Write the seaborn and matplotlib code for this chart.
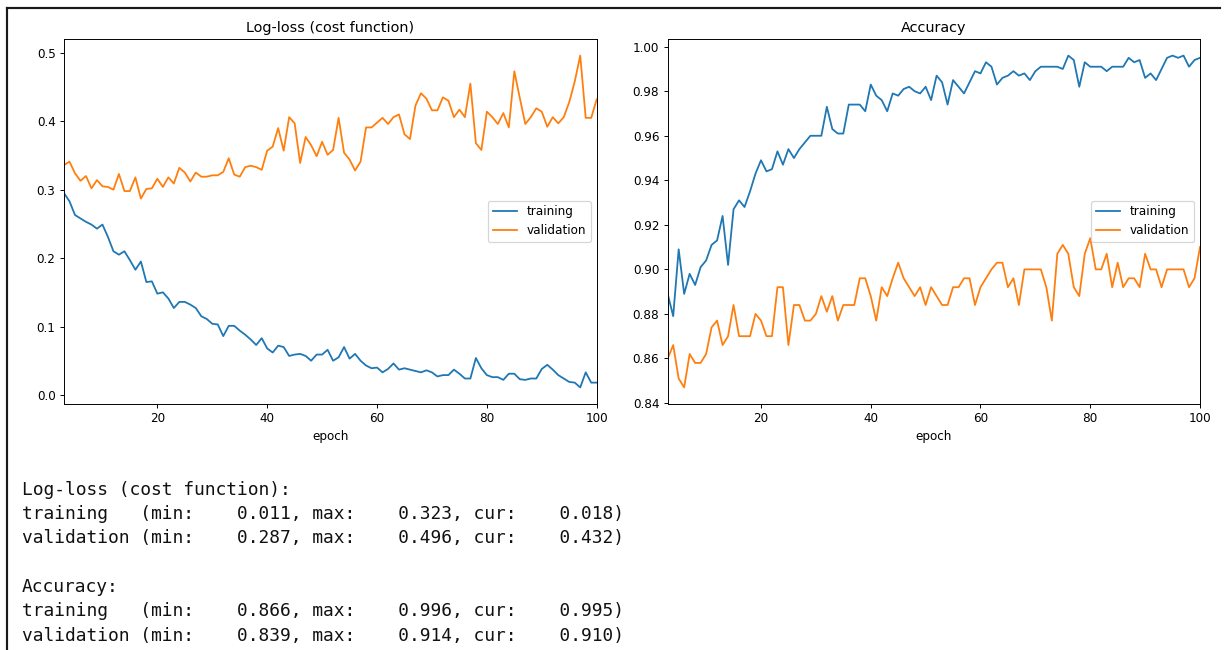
import matplotlib
matplotlib.use("Agg")
import matplotlib.pyplot as plt
from matplotlib.lines import Line2D
import seaborn as sns

# values per epoch 1..100 (first two epochs are not drawn, like livelossplot skip_first=2)
epochs = list(range(1, 101))
skip_first = 2

train_loss = [
    0.323, 0.306,
    0.295, 0.283, 0.263, 0.258, 0.253, 0.249, 0.243, 0.249, 0.231, 0.210,
    0.205, 0.210, 0.197, 0.183, 0.195, 0.165, 0.166, 0.148, 0.150, 0.141,
    0.127, 0.136, 0.136, 0.132, 0.127, 0.115, 0.111, 0.104, 0.103, 0.086,
    0.101, 0.101, 0.094, 0.088, 0.081, 0.073, 0.083, 0.068, 0.062, 0.072,
    0.070, 0.057, 0.059, 0.060, 0.057, 0.050, 0.059, 0.059, 0.066, 0.050,
    0.055,
    0.070, 0.053, 0.060, 0.050, 0.043, 0.039, 0.040, 0.033, 0.038, 0.046,
    0.037, 0.039, 0.037, 0.035, 0.033, 0.036, 0.033, 0.027, 0.029, 0.029,
    0.037, 0.031, 0.024, 0.024, 0.054, 0.039, 0.029, 0.026, 0.026, 0.022,
    0.031, 0.031, 0.023, 0.022, 0.024, 0.024, 0.038, 0.044, 0.037, 0.029,
    0.024, 0.019, 0.018, 0.011, 0.033, 0.018, 0.018,
]
val_loss = [
    0.335, 0.330,
    0.336, 0.341, 0.324, 0.313, 0.320, 0.302, 0.314, 0.305, 0.304, 0.300,
    0.323, 0.298, 0.298, 0.318, 0.287, 0.301, 0.302, 0.316, 0.304, 0.318,
    0.309, 0.332, 0.325, 0.312, 0.325, 0.319, 0.319, 0.321, 0.321, 0.326,
    0.346, 0.322, 0.319, 0.333, 0.335, 0.333, 0.329, 0.357, 0.363, 0.390,
    0.357, 0.406, 0.397, 0.339, 0.377, 0.365, 0.349, 0.370, 0.351, 0.358,
    0.405,
    0.354, 0.344, 0.328, 0.341, 0.391, 0.391, 0.398, 0.405, 0.396, 0.406,
    0.410, 0.381, 0.374, 0.423, 0.441, 0.433, 0.416, 0.416, 0.435, 0.430,
    0.406, 0.417, 0.406, 0.455, 0.368, 0.358, 0.414, 0.406, 0.396, 0.412,
    0.391, 0.473, 0.434, 0.396, 0.406, 0.419, 0.414, 0.392, 0.406, 0.397,
    0.406, 0.428, 0.458, 0.496, 0.405, 0.405, 0.432,
]
train_acc = [
    0.866, 0.885,
    0.889, 0.879, 0.909, 0.889, 0.898, 0.893, 0.901, 0.904, 0.911, 0.913,
    0.924, 0.902, 0.927, 0.931, 0.928, 0.935, 0.943, 0.949, 0.944, 0.945,
    0.953, 0.947, 0.954, 0.950, 0.954, 0.957, 0.960, 0.960, 0.960, 0.973,
    0.963, 0.961, 0.961, 0.974, 0.974, 0.974, 0.971, 0.983, 0.978, 0.976,
    0.971, 0.979, 0.978, 0.981, 0.982, 0.980, 0.979, 0.982, 0.976, 0.987,
    0.984, 0.974, 0.985, 0.982, 0.979, 0.984, 0.989, 0.988, 0.993, 0.991,
    0.983, 0.986, 0.987, 0.989, 0.987, 0.988, 0.985, 0.989, 0.991, 0.991,
    0.991, 0.991, 0.990, 0.996, 0.994, 0.982, 0.993, 0.991, 0.991, 0.991,
    0.989, 0.991, 0.991, 0.991, 0.995, 0.993, 0.994, 0.986, 0.988, 0.985,
    0.990, 0.995, 0.996, 0.995, 0.996, 0.991, 0.994, 0.995,
]
val_acc = [
    0.839, 0.857,
    0.860, 0.866, 0.851, 0.847, 0.862, 0.858, 0.858, 0.862, 0.874, 0.877,
    0.866, 0.870, 0.884, 0.870, 0.870, 0.870, 0.880, 0.877, 0.870, 0.870,
    0.892, 0.892, 0.866, 0.884, 0.884, 0.877, 0.877, 0.880, 0.888, 0.881,
    0.888, 0.877, 0.884, 0.884, 0.884, 0.896, 0.896, 0.888, 0.877, 0.892,
    0.888, 0.896, 0.903, 0.896, 0.892, 0.888, 0.892, 0.884, 0.892, 0.888,
    0.884, 0.884, 0.892, 0.892, 0.896, 0.896, 0.884, 0.892, 0.896, 0.900,
    0.903, 0.903, 0.892, 0.896, 0.884, 0.900, 0.900, 0.900, 0.900, 0.892,
    0.877, 0.907, 0.911, 0.907, 0.892, 0.888, 0.907, 0.914, 0.900, 0.900,
    0.907, 0.892, 0.903, 0.892, 0.896, 0.896, 0.892, 0.907, 0.900, 0.900,
    0.892, 0.900, 0.900, 0.900, 0.900, 0.892, 0.896, 0.910,
]

titles = ["Log-loss (cost function)", "Accuracy"]
series_labels = ["training", "validation"]

DPI = 86.4
W, H = 1225, 650
fig = plt.figure(figsize=(W / DPI, H / DPI), dpi=DPI)


def px_rect(x0, y0, x1, y1):
    return [x0 / W, 1 - y1 / H, (x1 - x0) / W, (y1 - y0) / H]


def draw_metric(ax, title, train, val):
    sns.lineplot(x=epochs[skip_first:], y=train[skip_first:], ax=ax,
                 color="C0", label=series_labels[0])
    sns.lineplot(x=epochs[skip_first:], y=val[skip_first:], ax=ax,
                 color="C1", label=series_labels[1])
    ax.set_xlim(1 + skip_first, len(epochs))
    ax.set_title(title)
    ax.set_xlabel("epoch")
    ax.set_ylabel("")
    ax.legend(loc="center right")


ax_loss = fig.add_axes(px_rect(64, 39, 596.7, 404))
ax_acc = fig.add_axes(px_rect(667.7, 39, 1200, 404))
draw_metric(ax_loss, titles[0], train_loss, val_loss)
draw_metric(ax_acc, titles[1], train_acc, val_acc)


# text summary under the plots
def summary(label, vals):
    return f"{label:<11}(min: {min(vals):8.3f}, max: {max(vals):8.3f}, cur: {vals[-1]:8.3f})"


lines = [
    (490, titles[0] + ":"),
    (514, summary(series_labels[0], train_loss)),
    (538, summary(series_labels[1], val_loss)),
    (587, titles[1] + ":"),
    (611, summary(series_labels[0], train_acc)),
    (636, summary(series_labels[1], val_acc)),
]
for y, txt in lines:
    fig.text(22 / W, 1 - y / H, txt, family="DejaVu Sans Mono",
             fontsize=14.9, va="center", ha="left", color="#111111")

# output-cell frame of the screenshot
fig.add_artist(Line2D([7 / W, 1220 / W], [1 - 8 / H, 1 - 8 / H],
                      color="#1a1a1a", lw=1.8))
fig.add_artist(Line2D([7 / W, 7 / W], [1 - 8 / H, 0],
                      color="#1a1a1a", lw=1.8))

fig.savefig("out.png", dpi=DPI)
